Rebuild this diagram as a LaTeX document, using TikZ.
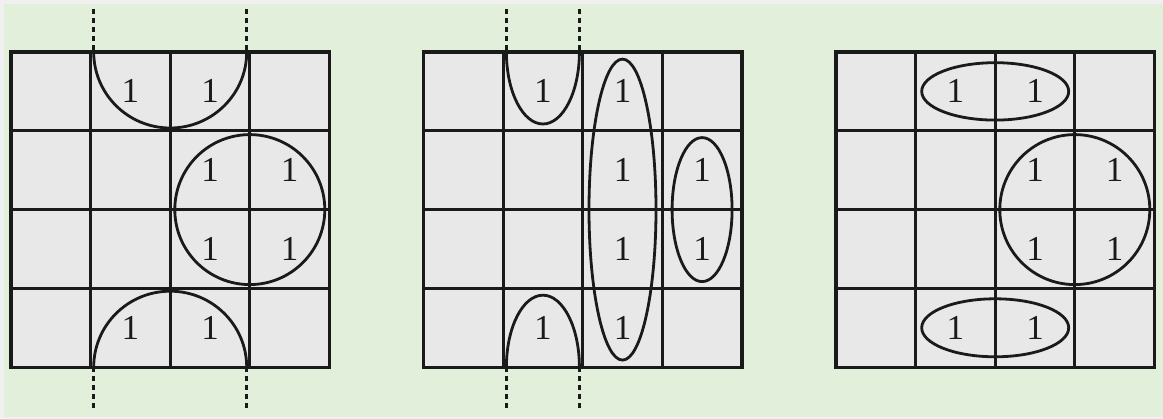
\documentclass[tikz,border=0pt]{standalone}
\usepackage{fontspec}
\setmainfont{Liberation Serif}
\usetikzlibrary{positioning, calc}
\definecolor{bggreen}{RGB}{226,239,218}
\definecolor{bandgray}{RGB}{240,240,240}
\definecolor{cellgray}{RGB}{232,232,232}
\definecolor{inkline}{RGB}{26,26,26}

\begin{document}
\begin{tikzpicture}[
  x=1pt, y=-1pt,
  one/.style={font=\fontsize{35}{38}\selectfont, inner sep=0pt, text=inkline},
  gridline/.style={inkline, line width=2.8pt},
  frame/.style={inkline, line width=3.2pt},
  loop/.style={inkline, line width=2.8pt},
  wrapline/.style={inkline, line width=2.8pt, dash pattern=on 4.7pt off 4.3pt},
]
\pgfmathsetmacro{\CW}{79.6}
\pgfmathsetmacro{\CH}{78.8}
\pgfmathsetmacro{\TOP}{52}

% Background
\fill[bandgray] (0,0) rectangle (1163,419);
\fill[bggreen] (4,4) rectangle (1163,417);
\useasboundingbox (0,0) rectangle (1163,419);

% Cells of the three maps
\foreach \g/\xo in {1/11, 2/423.5, 3/836} {
  \coordinate (M\g) at (\xo,\TOP);
  \fill[cellgray] (M\g) rectangle ++(4*\CW,4*\CH);
  \foreach \r in {1,...,4} {
    \foreach \c in {1,...,4} {
      \coordinate (m\g-\r\c) at ({\xo+(\c-0.5)*\CW},{\TOP+(\r-0.5)*\CH});
    }
  }
}

% Map 1: wrapped pair, square
\begin{scope}
  \clip (M1) rectangle ++(4*\CW,4*\CH);
  \draw[loop] ($(M1)+(2*\CW,0)$) ellipse [x radius=76.5, y radius=76];
  \draw[loop] ($(M1)+(2*\CW,4*\CH)$) ellipse [x radius=76.5, y radius=76];
  \draw[loop] ($(M1)+(3*\CW,2*\CH)$) circle [radius=75];
\end{scope}

% Map 2: wrapped single, column, pair
\begin{scope}
  \clip (M2) rectangle ++(4*\CW,4*\CH);
  \draw[loop] ($(M2)+(1.5*\CW,0)$) ellipse [x radius=36.5, y radius=72];
  \draw[loop] ($(M2)+(1.5*\CW,4*\CH)$) ellipse [x radius=36.5, y radius=72];
  \draw[loop] ($(M2)+(2.5*\CW,2*\CH)$) ellipse [x radius=33.5, y radius=150.5];
  \draw[loop] ($(M2)+(3.5*\CW,2*\CH)$) ellipse [x radius=30, y radius=72];
\end{scope}

% Map 3: two pairs, square
\draw[loop] ($(M3)+(2*\CW,0.5*\CH)$) ellipse [x radius=73.5, y radius=28.7];
\draw[loop] ($(M3)+(2*\CW,3.5*\CH)$) ellipse [x radius=73.5, y radius=29];
\draw[loop] ($(M3)+(3*\CW,2*\CH)$) circle [radius=75];

% Grid lines on top
\foreach \g in {1,2,3} {
  \foreach \k in {1,2,3} {
    \draw[gridline] ($(M\g)+(\k*\CW,0)$) -- ++(0,4*\CH);
    \draw[gridline] ($(M\g)+(0,\k*\CH)$) -- ++(4*\CW,0);
  }
  \draw[frame] (M\g) rectangle ++(4*\CW,4*\CH);
}

% Wrap-around markers
\foreach \n/\xw in {a/93.7, b/246.7, c/506.4, d/579.4} {
  \coordinate (wt\n) at (\xw,9.3);
  \coordinate (wu\n) at (\xw,\TOP);
  \coordinate (wl\n) at (\xw,{\TOP+4*\CH});
  \coordinate (wb\n) at (\xw,410);
  \draw[wrapline] (wt\n) -- (wu\n);
  \draw[wrapline] (wl\n) -- (wb\n);
}

% Minterms
\foreach \g in {1,2,3} {
  \foreach \rc in {12,13,23,24,33,34,42,43} {
    \node[one] (one\g-\rc) at (m\g-\rc) {1};
  }
}
\end{tikzpicture}
\end{document}
